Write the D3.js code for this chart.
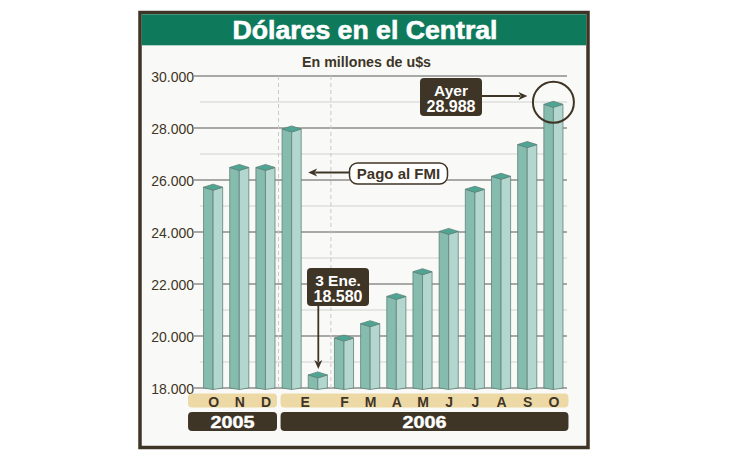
<!DOCTYPE html>
<html>
<head>
<meta charset="utf-8">
<script src="https://cdn.jsdelivr.net/npm/d3@7"></script>
<style>
  html,body{margin:0;padding:0;background:#fff;}
  svg{display:block;}
  text{font-family:"Liberation Sans", Arial, sans-serif;}
</style>
</head>
<body>
<svg id="chart" width="730" height="460"></svg>
<script>
// ---- data ----
const title = "Dólares en el Central";
const subtitle = "En millones de u$s";
const periods = ["2005-10","2005-11","2005-12","2006-01","2006-01","2006-02","2006-03","2006-04","2006-05","2006-06","2006-07","2006-08","2006-09","2006-10"];
const months = ["O","N","D","E","E","F","M","A","M","J","J","A","S","O"];
const years  = ["2005","2005","2005","2006","2006","2006","2006","2006","2006","2006","2006","2006","2006","2006"];
const values = [25800, 26560, 26560, 28040, 18580, 20000, 20550, 21600, 22550, 24100, 25720, 26220, 27440, 28988];
const yTicksMajor = [18000, 20000, 22000, 24000, 26000, 28000, 30000];
const yTicksMinor = [19000, 21000, 23000, 25000, 27000, 29000];
const noteAyer = ["Ayer", "28.988"];
const noteEne = ["3 Ene.", "18.580"];
const noteFmi = "Pago al FMI";

// ---- drawing ----
const svg = d3.select("#chart");
const dark = "#3f3526";
const locale = d3.formatLocale({decimal: ",", thousands: ".", grouping: [3], currency: ["$", ""]});
const fmt = locale.format(",.0f");

const x = d3.scaleBand().domain(d3.range(values.length)).range([200, 566.5])
  .paddingInner(0.27).paddingOuter(0.135);
const y = d3.scaleLinear().domain([18000, 30000]).range([388, 76]);
const bw = x.bandwidth();

// frame
svg.append("rect").attr("x", 140).attr("y", 12.5).attr("width", 448).attr("height", 435)
  .attr("fill", "#f9faf7").attr("stroke", dark).attr("stroke-width", 3.5);
svg.append("rect").attr("x", 141.8).attr("y", 14.3).attr("width", 444.4).attr("height", 31)
  .attr("fill", "#0e7a5b");
svg.append("text").attr("x", 365).attr("y", 38.5).attr("text-anchor", "middle")
  .attr("font-size", 25).attr("font-weight", "bold").attr("fill", "#fff")
  .attr("stroke", "#fff").attr("stroke-width", 0.6)
  .attr("textLength", 265).attr("lengthAdjust", "spacingAndGlyphs").text(title);
svg.append("text").attr("x", 366.5).attr("y", 67).attr("text-anchor", "middle")
  .attr("font-size", 14.5).attr("font-weight", "bold").attr("fill", dark)
  .attr("textLength", 129).attr("lengthAdjust", "spacingAndGlyphs").text(subtitle);

// grid
const gx0 = 200, gx1 = 567;
svg.append("g").selectAll("line").data(yTicksMinor).join("line")
  .attr("x1", gx0).attr("x2", gx1).attr("y1", d => y(d)).attr("y2", d => y(d))
  .attr("stroke", "#d2d2d0").attr("stroke-width", 1.2);
svg.append("g").selectAll("line").data(yTicksMajor).join("line")
  .attr("x1", gx0 - 6).attr("x2", gx1).attr("y1", d => y(d)).attr("y2", d => y(d))
  .attr("stroke", "#a8a8a6").attr("stroke-width", 1.8);

// y axis labels
const yAxis = d3.axisLeft(y).tickValues(yTicksMajor).tickFormat(fmt).tickSize(0).tickPadding(0);
const ga = svg.append("g").attr("transform", "translate(194,0)").call(yAxis);
ga.select(".domain").remove();
ga.selectAll("text").attr("font-size", 14).attr("fill", dark)
  .attr("font-family", "Liberation Sans, Arial, sans-serif").attr("dy", "0.36em");

// dashed separators: year change and after the second bar of a repeated period
const seps = [];
for (let i = 1; i < values.length; i++) {
  if (years[i] !== years[i - 1] || (i >= 2 && periods[i - 1] === periods[i - 2])) {
    seps.push((x(i - 1) + bw + x(i)) / 2);
  }
}
svg.append("g").selectAll("line").data(seps).join("line")
  .attr("x1", d => d).attr("x2", d => d).attr("y1", y(30000)).attr("y2", y(18000))
  .attr("stroke", "#c9c9c9").attr("stroke-width", 1).attr("stroke-dasharray", "4,3");

// bars (prism)
const base = y(18000);
const bars = svg.append("g").selectAll("g").data(values).join("g");
bars.each(function (v, i) {
  const g = d3.select(this);
  const x0 = x(i), x1 = x0 + bw, cx = x0 + bw / 2, t = y(v) + 2, d = 3;
  g.append("polygon").attr("points", [[x0, t], [cx, t + d], [cx, base + 1.5], [x0, base]].join(" "))
    .attr("fill", "#86bcae").attr("stroke", "#5f8178").attr("stroke-width", 0.8);
  g.append("polygon").attr("points", [[cx, t + d], [x1, t], [x1, base], [cx, base + 1.5]].join(" "))
    .attr("fill", "#b3d6cf").attr("stroke", "#5f8178").attr("stroke-width", 0.8);
  g.append("polygon").attr("points", [[x0, t], [cx, t - d], [x1, t], [cx, t + d]].join(" "))
    .attr("fill", "#4fa594").attr("stroke", "#5f8178").attr("stroke-width", 0.8);
});

// month label bands (grouped by year)
const yearGroups = d3.groups(d3.range(values.length), i => years[i]);
const bandY = 393.5, bandH = 14;
yearGroups.forEach(([yr, idx], k) => {
  const first = idx[0], last = idx[idx.length - 1];
  const left = k === 0 ? x(first) - 15.5 : x(first) - 1.5;
  const right = k === yearGroups.length - 1 ? x(last) + bw + 5.5 : x(last) + bw + 2;
  svg.append("rect").attr("x", left).attr("y", bandY).attr("width", right - left).attr("height", bandH)
    .attr("rx", 4).attr("fill", "#edd9a6");
  svg.append("rect").attr("x", left).attr("y", 412).attr("width", right - left).attr("height", 19)
    .attr("rx", 4).attr("fill", dark);
  svg.append("text").attr("x", (left + right) / 2).attr("y", 427.5).attr("text-anchor", "middle")
    .attr("font-size", 16.5).attr("font-weight", "bold").attr("fill", "#fff")
    .attr("stroke", "#fff").attr("stroke-width", 0.4)
    .attr("textLength", 44).attr("lengthAdjust", "spacingAndGlyphs").text(yr);
});

// month labels: centered on each period (January holds two bars)
const mGroups = d3.groups(d3.range(values.length), i => periods[i])
  .map(([p, idx]) => ({m: months[idx[0]], idx}));
svg.append("g").selectAll("text").data(mGroups).join("text")
  .attr("x", g => d3.mean(g.idx, i => x(i) + bw / 2) + 0.5)
  .attr("y", 406.5).attr("text-anchor", "middle")
  .attr("font-size", 14).attr("font-weight", "bold").attr("fill", dark).text(g => g.m);

// arrow helper
function arrow(x1, y1, x2, y2) {
  const ang = Math.atan2(y2 - y1, x2 - x1), L = 9, W = 4;
  const bx = x2 - L * Math.cos(ang), by = y2 - L * Math.sin(ang);
  svg.append("line").attr("x1", x1).attr("y1", y1).attr("x2", bx + 2 * Math.cos(ang)).attr("y2", by + 2 * Math.sin(ang))
    .attr("stroke", dark).attr("stroke-width", 1.8);
  const px = -Math.sin(ang) * W, py = Math.cos(ang) * W;
  svg.append("polygon").attr("points",
    [[x2, y2], [bx + px, by + py], [bx + 2.5 * Math.cos(ang), by + 2.5 * Math.sin(ang)], [bx - px, by - py]].join(" "))
    .attr("fill", dark);
}

// Ayer annotation
const last = values.length - 1;
const ocx = x(last) + bw / 2, ocy = y(values[last]);
svg.append("circle").attr("cx", ocx).attr("cy", ocy).attr("r", 20.5)
  .attr("fill", "none").attr("stroke", dark).attr("stroke-width", 2);
svg.append("rect").attr("x", 420).attr("y", 78).attr("width", 62).attr("height", 38).attr("rx", 4).attr("fill", dark);
svg.append("text").attr("x", 451).attr("y", 96).attr("text-anchor", "middle").attr("font-size", 15.5)
  .attr("font-weight", "bold").attr("fill", "#fff").text(noteAyer[0]);
svg.append("text").attr("x", 451).attr("y", 111.5).attr("text-anchor", "middle").attr("font-size", 16)
  .attr("font-weight", "bold").attr("fill", "#fff").text(noteAyer[1]);
arrow(482, 96, ocx - 26, 96);

// 3 Ene annotation
const ei = 4;
svg.append("rect").attr("x", 307).attr("y", 268).attr("width", 62).attr("height", 38).attr("rx", 4).attr("fill", dark);
svg.append("text").attr("x", 338).attr("y", 285.5).attr("text-anchor", "middle").attr("font-size", 15.5)
  .attr("font-weight", "bold").attr("fill", "#fff").text(noteEne[0]);
svg.append("text").attr("x", 338).attr("y", 301.5).attr("text-anchor", "middle").attr("font-size", 16)
  .attr("font-weight", "bold").attr("fill", "#fff").text(noteEne[1]);
arrow(x(ei) + bw / 2 + 0.5, 306, x(ei) + bw / 2 + 0.5, y(values[ei]) - 4);

// Pago al FMI annotation
svg.append("rect").attr("x", 349.5).attr("y", 163).attr("width", 98).attr("height", 21).attr("rx", 8)
  .attr("fill", "#fff").attr("stroke", dark).attr("stroke-width", 1.5);
svg.append("text").attr("x", 398.5).attr("y", 179).attr("text-anchor", "middle").attr("font-size", 15)
  .attr("font-weight", "bold").attr("fill", dark).text(noteFmi);
arrow(349.5, 172.5, x(3) + bw + 7, 172.5);
</script>
</body>
</html>
